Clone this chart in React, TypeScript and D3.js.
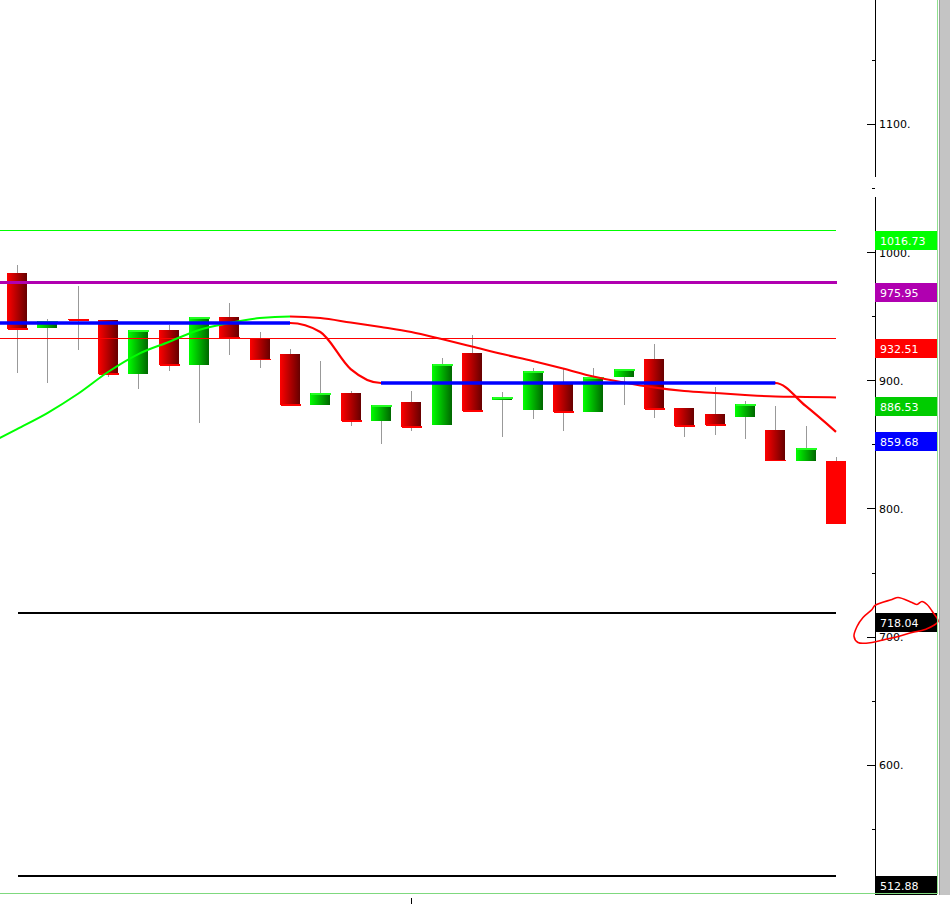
import * as d3 from "d3";

// daily bars, left to right
const opens = [983.6, 941.0, 947.7, 947.0, 905.1, 939.2, 912.1, 949.1, 932.7, 920.4, 880.7, 889.8, 868.4, 883.0, 865.3, 921.2, 884.8, 877.0, 896.8, 875.4, 902.7, 916.5, 878.3, 873.6, 871.3, 861.2, 837.0, 837.0];
const closes = [939.7, 946.2, 946.7, 904.6, 938.9, 911.6, 949.1, 932.7, 915.8, 880.4, 889.8, 867.9, 880.4, 863.3, 912.4, 875.7, 886.7, 906.9, 875.0, 902.3, 908.5, 877.3, 864.0, 864.8, 881.4, 837.0, 847.1, 788.1];
const highs = [989.9, 947.7, 973.5, 947.0, 939.0, 943.1, 949.5, 960.2, 937.6, 924.3, 915.0, 891.8, 880.4, 891.6, 917.1, 935.3, 890.6, 909.3, 909.3, 909.3, 908.5, 928.2, 878.3, 894.7, 883.8, 879.9, 864.3, 840.0];
const lows = [905.9, 898.0, 923.8, 902.7, 893.4, 907.4, 866.9, 919.9, 909.8, 880.0, 880.7, 864.5, 850.5, 860.6, 865.0, 875.7, 855.9, 870.0, 860.6, 875.4, 880.9, 870.7, 855.9, 857.5, 854.4, 837.0, 836.8, 788.0];

// indicators start one bar before the first visible candle
const ma1 = [849.5, 861.9, 874.4, 889.2, 906.4, 920.4, 929.8, 939.2, 944.6, 948.5, 949.7, 948.5, 945.0, 941.5, 937.6, 932.1, 926.3, 920.4, 915.0, 909.1, 902.9, 898.2, 894.3, 891.6, 890.0, 888.5, 887.3, 886.9, 886.53];
const ma2 = [944.6, 944.6, 944.6, 944.6, 944.6, 944.6, 944.6, 944.6, 944.6, 944.6, 944.6, 937.6, 908.7, 897.8, 897.8, 897.8, 897.8, 897.8, 897.8, 897.8, 897.8, 897.8, 897.8, 897.8, 897.8, 897.8, 897.8, 879.9, 859.68];

const majorTicks = [1100, 1000, 900, 800, 700, 600];
const minorTicks = [1150, 1050, 950, 850, 750, 650, 550];

const thinLevels = [1016.73, 932.51];
const thinLevelColors = ["#00ff00", "#ff0000"];
const purpleLevel = 975.95;
const blackLevels = [718.04, 512.88];

const tagValues = [1016.73, 975.95, 932.51, 886.53, 859.68, 718.04, 512.88];
const tagColors = ["#00ff00", "#b000b0", "#ff0000", "#00cc00", "#0000ff", "#000000", "#000000"];

// hand drawn ring around the 718.04 tag (relative to the tag's top-left)
const ring: [number, number][] = [[0, -8], [17, -14], [23, -16], [37, -11], [42, -9], [47, -12], [52, -9], [58, -1], [63, 8], [50, 16], [37, 19], [23, 23], [10, 26], [-3, 29], [-17, 29], [-21, 23], [-18, 13], [-12, 4], [-3, -4]];

const W = 950;
const H = 904;
const axisX = 875;
const font = "'DejaVu Sans', Verdana, sans-serif";

export default function App() {
  const x = d3.scaleLinear().domain([0, opens.length - 1]).range([17, 836]);
  const y = d3.scaleLinear().domain([1000, 700]).range([252, 636.6]);
  const bw = 20;

  const maLine = d3
    .line<number>()
    .x((d, i) => x(i - 1))
    .y((d) => y(d))
    .curve(d3.curveMonotoneX);

  const peak = d3.maxIndex(ma1);
  const splitX = x(peak - 1);

  // flat stretches of ma2 are painted blue
  const runs: { a: number; b: number; v: number }[] = [];
  let s = 0;
  for (let i = 1; i <= ma2.length; i++) {
    if (i === ma2.length || ma2[i] !== ma2[s]) {
      if (i - 1 > s) runs.push({ a: s, b: i - 1, v: ma2[s] });
      s = i;
    }
  }

  const ringPath = d3.line().curve(d3.curveCatmullRomClosed)(
    ring.map(([dx, dy]) => [axisX + dx, y(718.04) + dy])
  );

  return (
    <svg width={W} height={H} style={{ position: "absolute", left: 0, top: 0, background: "#fff" }}>
      <defs>
        <linearGradient id="gRed" x1="0" x2="1" y1="0" y2="0">
          <stop offset="0" stopColor="#ff0000" />
          <stop offset="1" stopColor="#660000" />
        </linearGradient>
        <linearGradient id="gGreen" x1="0" x2="1" y1="0" y2="0">
          <stop offset="0" stopColor="#00ff00" />
          <stop offset="1" stopColor="#006600" />
        </linearGradient>
        <clipPath id="plot">
          <rect x={0} y={0} width={axisX} height={893} />
        </clipPath>
        <clipPath id="up">
          <rect x={0} y={0} width={splitX} height={893} />
        </clipPath>
        <clipPath id="down">
          <rect x={splitX} y={0} width={axisX - splitX} height={893} />
        </clipPath>
      </defs>

      {/* candles */}
      <g shapeRendering="crispEdges">
        {opens.map((o, i) => {
          const c = closes[i];
          const up = c >= o;
          const cx = Math.round(x(i));
          const top = y(Math.max(o, c));
          const bot = y(Math.min(o, c));
          const last = i === opens.length - 1;
          return (
            <g key={i}>
              <line x1={cx + 0.5} x2={cx + 0.5} y1={y(highs[i])} y2={y(lows[i])} stroke="#999" strokeWidth={1} />
              <rect
                x={cx - bw / 2}
                y={top}
                width={bw}
                height={Math.max(1, bot - top)}
                fill={last ? "#ff0000" : up ? "url(#gGreen)" : "url(#gRed)"}
              />
              {!last && (
                <rect
                  x={cx - bw / 2 + 1}
                  y={y(c) - (up ? 0 : 1)}
                  width={bw}
                  height={1.5}
                  fill={up ? "#22ff22" : "#ff0000"}
                />
              )}
            </g>
          );
        })}
      </g>

      {/* horizontal levels */}
      <g shapeRendering="crispEdges">
        {thinLevels.map((v, i) => (
          <line key={v} x1={0} x2={x(opens.length - 1)} y1={y(v)} y2={y(v)} stroke={thinLevelColors[i]} strokeWidth={1} />
        ))}
        <line x1={0} x2={x(opens.length - 1) + 1} y1={y(purpleLevel)} y2={y(purpleLevel)} stroke="#b000b0" strokeWidth={3} />
        {blackLevels.map((v) => (
          <line key={v} x1={18} x2={x(opens.length - 1)} y1={y(v)} y2={y(v)} stroke="#000" strokeWidth={2} />
        ))}
      </g>

      {/* moving averages */}
      <g clipPath="url(#plot)">
        <g clipPath="url(#up)">
          <path d={maLine(ma1) ?? ""} fill="none" stroke="#00ff00" strokeWidth={2} />
        </g>
        <g clipPath="url(#down)">
          <path d={maLine(ma1) ?? ""} fill="none" stroke="#ff0000" strokeWidth={2} />
        </g>
        <path d={maLine(ma2) ?? ""} fill="none" stroke="#ff0000" strokeWidth={2.2} />
        {runs.map((r) => (
          <line key={r.a} x1={x(r.a - 1)} x2={x(r.b - 1)} y1={y(r.v)} y2={y(r.v)} stroke="#0000ff" strokeWidth={3.5} />
        ))}
      </g>

      {/* price axis */}
      <g shapeRendering="crispEdges" stroke="#000">
        <line x1={axisX + 0.5} x2={axisX + 0.5} y1={0} y2={177} />
        <line x1={axisX + 0.5} x2={axisX + 0.5} y1={197} y2={893} />
        {majorTicks.map((v) => (
          <line key={v} x1={axisX - 8} x2={axisX} y1={Math.round(y(v)) + 0.5} y2={Math.round(y(v)) + 0.5} />
        ))}
        {minorTicks.map((v) => (
          <line key={v} x1={axisX - 3} x2={axisX} y1={Math.round(y(v)) + 0.5} y2={Math.round(y(v)) + 0.5} />
        ))}
      </g>
      <g fontFamily={font} fontSize={11} fill="#000">
        {majorTicks.map((v) => (
          <text key={v} x={axisX + 4} y={y(v) + 4.5}>
            {`${v}.`}
          </text>
        ))}
      </g>

      {/* value tags */}
      <g fontFamily={font} fontSize={11}>
        {tagValues.map((v, i) => (
          <g key={v}>
            <rect x={axisX} y={y(v)} width={62} height={19} fill={tagColors[i]} shapeRendering="crispEdges" />
            <text x={axisX + 5} y={y(v) + 14} fill="#fff">
              {v.toFixed(2)}
            </text>
          </g>
        ))}
      </g>

      <path d={ringPath ?? ""} fill="none" stroke="#ff0000" strokeWidth={1.6} />

      {/* frame */}
      <g shapeRendering="crispEdges">
        <line x1={937.5} x2={937.5} y1={0} y2={894} stroke="#8fe08f" strokeWidth={1} />
        <line x1={0} x2={938} y1={893.5} y2={893.5} stroke="#7fd97f" strokeWidth={1.5} />
        <rect x={939} y={0} width={11} height={895} fill="#c4c4c4" />
        <line x1={939.5} x2={939.5} y1={0} y2={895} stroke="#9c9c9c" />
        <line x1={Math.round(x(13)) + 0.5} x2={Math.round(x(13)) + 0.5} y1={898} y2={904} stroke="#000" />
      </g>
    </svg>
  );
}
